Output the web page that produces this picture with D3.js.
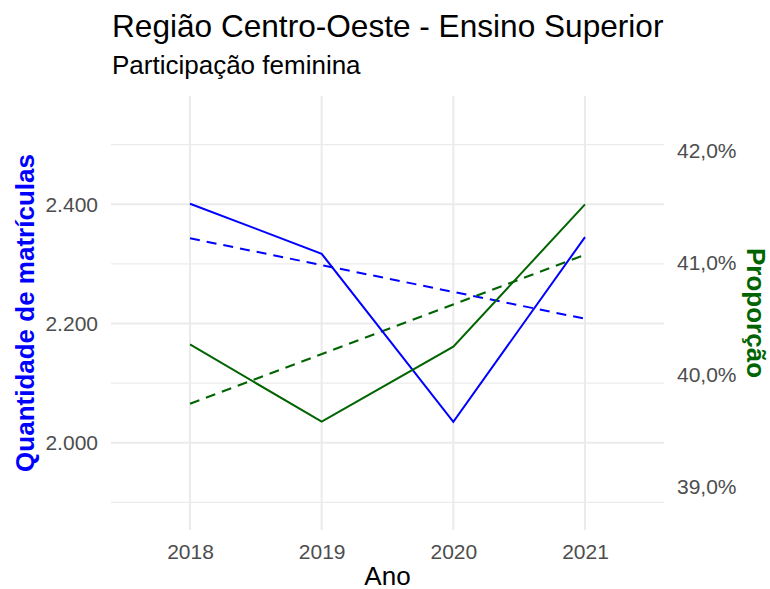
<!DOCTYPE html>
<html>
<head>
<meta charset="utf-8">
<script src="https://cdn.jsdelivr.net/npm/d3@7"></script>
<style>
body { margin: 0; background: #fff; }
text { font-family: "Liberation Sans", Arial, sans-serif; }
</style>
</head>
<body>
<script>
var anos = [2018, 2019, 2020, 2021];
var matriculas = [2401, 2317, 2035, 2345];
var proporcao = [40.27, 39.58, 40.25, 41.52];
// linhas de tendência (extremos)
var anosTend = [2018, 2021];
var tendMatriculas = [2343, 2208];
var tendProporcao = [39.74, 41.07];

var ticksEsq = [2000, 2200, 2400];
var ticksEsqMenor = [1900, 2100, 2300, 2500];
var ticksDir = [39, 40, 41, 42];

var width = 770, height = 589;
var panel = {left: 111, right: 664, top: 96, bottom: 530};

var locale = d3.formatLocale({decimal: ",", thousands: ".", grouping: [3], currency: ["R$", ""]});
var fmtEsq = locale.format(",.0f");
var fmtDir = function(d) { return locale.format(".1f")(d) + "%"; };

var xScale = d3.scaleLinear().domain([2017.4, 2021.6]).range([panel.left, panel.right]);
var yScale = d3.scaleLinear().domain([1853.5, 2581.7]).range([panel.bottom, panel.top]);
var y2Scale = d3.scaleLinear().domain([38.613, 42.488]).range([panel.bottom, panel.top]);

var svg = d3.select("body").append("svg")
.attr("width", width)
.attr("height", height);

// grade
var grid = svg.append("g");
grid.selectAll(".minor").data(ticksEsqMenor).enter().append("line")
.attr("x1", panel.left).attr("x2", panel.right)
.attr("y1", function(d){return yScale(d)}).attr("y2", function(d){return yScale(d)})
.attr("stroke", "#ebebeb").attr("stroke-width", 1.3);
grid.selectAll(".major").data(ticksEsq).enter().append("line")
.attr("x1", panel.left).attr("x2", panel.right)
.attr("y1", function(d){return yScale(d)}).attr("y2", function(d){return yScale(d)})
.attr("stroke", "#ebebeb").attr("stroke-width", 2);
grid.selectAll(".vert").data(anos).enter().append("line")
.attr("y1", panel.top).attr("y2", panel.bottom)
.attr("x1", function(d){return xScale(d)}).attr("x2", function(d){return xScale(d)})
.attr("stroke", "#ebebeb").attr("stroke-width", 2);

// eixos
var xAxis = d3.axisBottom(xScale).tickValues(anos).tickFormat(d3.format("d")).tickSize(0).tickPadding(14);
var xAxisGroup = svg.append("g").attr("transform", "translate(0," + panel.bottom + ")").call(xAxis);
var yAxis = d3.axisLeft(yScale).tickValues(ticksEsq).tickFormat(fmtEsq).tickSize(0).tickPadding(13);
var yAxisGroup = svg.append("g").attr("transform", "translate(" + panel.left + ",0)").call(yAxis);
var y2Axis = d3.axisRight(y2Scale).tickValues(ticksDir).tickFormat(fmtDir).tickSize(0).tickPadding(13);
var y2AxisGroup = svg.append("g").attr("transform", "translate(" + panel.right + ",0)").call(y2Axis);

[xAxisGroup, yAxisGroup, y2AxisGroup].forEach(function(g) {
	g.select(".domain").remove();
	g.selectAll("text").attr("fill", "#4d4d4d").style("font-size", "21px")
	.style("font-family", "'Liberation Sans', Arial, sans-serif");
});

// linhas
var lineEsq = d3.line().x(function(d){return xScale(d[0])}).y(function(d){return yScale(d[1])});
var lineDir = d3.line().x(function(d){return xScale(d[0])}).y(function(d){return y2Scale(d[1])});

svg.append("path").datum(d3.zip(anosTend, tendMatriculas))
.attr("d", lineEsq).attr("fill", "none").attr("stroke", "blue")
.attr("stroke-width", 2).attr("stroke-dasharray", "10,7");
svg.append("path").datum(d3.zip(anosTend, tendProporcao))
.attr("d", lineDir).attr("fill", "none").attr("stroke", "#006400")
.attr("stroke-width", 2).attr("stroke-dasharray", "10,7");
svg.append("path").datum(d3.zip(anos, matriculas))
.attr("d", lineEsq).attr("fill", "none").attr("stroke", "blue").attr("stroke-width", 2);
svg.append("path").datum(d3.zip(anos, proporcao))
.attr("d", lineDir).attr("fill", "none").attr("stroke", "#006400").attr("stroke-width", 2);

// textos
svg.append("text").attr("x", 112).attr("y", 37)
.style("font-size", "31.6px").attr("fill", "#000")
.text("Região Centro-Oeste - Ensino Superior");
svg.append("text").attr("x", 112).attr("y", 74)
.style("font-size", "26px").attr("fill", "#000")
.text("Participação feminina");
svg.append("text").attr("x", (panel.left + panel.right) / 2).attr("y", 585)
.attr("text-anchor", "middle").style("font-size", "26px").attr("fill", "#000")
.text("Ano");
svg.append("text")
.attr("transform", "translate(34," + ((panel.top + panel.bottom) / 2) + ") rotate(-90)")
.attr("text-anchor", "middle").style("font-size", "26px").style("font-weight", "bold")
.attr("fill", "blue").text("Quantidade de matrículas");
svg.append("text")
.attr("transform", "translate(747," + ((panel.top + panel.bottom) / 2) + ") rotate(90)")
.attr("text-anchor", "middle").style("font-size", "26px").style("font-weight", "bold")
.attr("fill", "#006400").text("Proporção");
</script>
</body>
</html>
